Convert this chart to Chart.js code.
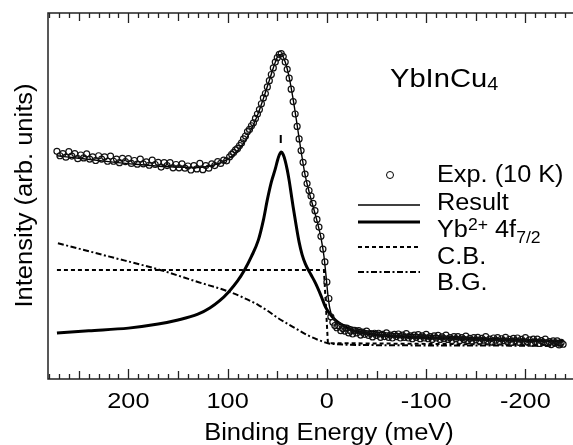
<!DOCTYPE html>
<html>
<head>
<meta charset="utf-8">
<script src="https://cdn.jsdelivr.net/npm/chart.js@4/dist/chart.umd.min.js"></script>
<style>
  html, body { margin: 0; padding: 0; background: #fff; overflow: hidden; }
  canvas { display: block; }
</style>
</head>
<body>
<canvas id="spectrum" width="612" height="445"></canvas>
<script>
// Binding energy in meV, intensity in arb. units (0..100)
const expEnergy = [
  272,269,266,263,260,257,254,251,248,245,242,239,236,233,230,227,224,221,218,215,
  212,209,206,203,200,197,194,191,188,185,182,179,176,173,170,167,164,161,158,155,
  152,149,146,143,140,137,134,131,128,125,122,119,116,113,110,107,104,101,
  98,96,94,92,90,88,86,84,82,80,78,76,74,72,70,68,66,64,62,60,
  58,56,54,52,50,48,46,44,42,40,38,36,34,32,30,28,26,24,22,20,
  18,16,14,12,10,8,6,4,2,0,-2,-4,-6,-8,-10,
  -12,-14,-16,-18,-20,-22,-24,-26,-28,-30,-32,-34,-36,-38,-40,-42,-44,-46,-48,-50,
  -52,-54,-56,-58,-60,-62,-64,-66,-68,-70,-72,-74,-76,-78,-80,-82,-84,-86,-88,-90,
  -92,-94,-96,-98,-100,-102,-104,-106,-108,-110,-112,-114,-116,-118,-120,-122,-124,-126,-128,-130,
  -132,-134,-136,-138,-140,-142,-144,-146,-148,-150,-152,-154,-156,-158,-160,-162,-164,-166,-168,-170,
  -172,-174,-176,-178,-180,-182,-184,-186,-188,-190,-192,-194,-196,-198,-200,-202,-204,-206,-208,-210,
  -212,-214,-216,-218,-220,-222,-224,-226,-228,-230,-232,-234,-236,-238
];
const expIntensity = [
  62.2,61.0,61.6,60.6,62.1,60.9,61.6,60.2,61.2,60.4,61.5,60.1,60.7,59.7,61.0,60.1,60.7,59.5,60.9,59.5,
  60.1,59.1,60.3,59.4,60.2,58.9,59.7,58.7,60.1,58.8,59.3,58.4,59.8,58.6,59.2,57.9,59.1,58.3,59.1,57.7,
  58.6,57.7,58.8,57.6,58.2,57.1,58.3,57.4,58.9,57.2,58.3,57.6,58.8,58.3,59.4,58.9,59.8,59.6,
  60.7,61.4,61.9,62.6,63.0,63.8,64.5,65.6,66.4,67.6,68.2,69.2,70.0,71.2,72.4,73.6,75.2,76.8,78.0,79.8,
  81.5,83.2,85.0,86.6,87.8,88.7,88.9,88.1,86.6,84.6,82.2,79.2,75.8,72.4,69.0,65.6,62.4,59.2,56.0,53.4,
  51.5,50.0,48.0,46.0,43.6,41.5,39.0,35.5,32.0,26.5,22.0,17.0,15.5,14.6,14.0,
  14.5,13.2,13.8,13.1,13.9,12.6,13.1,12.3,13.3,12.6,13.2,12.0,12.8,12.2,13.1,11.9,12.4,11.5,12.5,11.9,
  12.5,11.4,12.2,11.6,12.6,11.4,12.0,11.2,12.2,11.6,12.3,11.2,12.0,11.4,12.4,11.2,11.8,11.0,12.0,11.4,
  12.1,11.0,11.8,11.2,12.2,11.0,11.6,10.8,11.8,11.2,11.9,10.8,11.5,11.0,12.0,10.8,11.3,10.5,11.6,11.0,
  11.6,10.5,11.3,10.8,11.7,10.5,11.1,10.3,11.3,10.7,11.4,10.3,11.1,10.6,11.6,10.3,10.9,10.1,11.2,10.6,
  11.3,10.2,11.0,10.5,11.4,10.2,10.8,10.0,11.1,10.5,11.2,10.0,10.8,10.3,11.3,10.1,10.7,9.8,10.9,10.2,
  10.9,9.7,10.5,10.0,10.9,9.7,10.2,9.4,10.4,9.8,10.4,9.3,10.0,9.5
];

const resultEnergy = [272,250,220,190,160,130,115,105,95,85,78,70,64,58,53,49,46,42,38,34,30,26,22,18,14,10,6,3,1,-1,-3,-6,-10,-20,-35,-60,-100,-150,-200,-238];
const resultIntensity = [61.0,60.3,59.4,58.6,58.0,57.8,58.4,59.3,61.0,64.0,67.2,72.0,76.6,81.6,85.8,88.4,88.7,86.6,82.4,76.4,69.4,62.2,55.8,51.2,47.2,43.2,38.6,33.6,28.5,23.0,19.2,16.6,15.5,14.6,13.4,12.6,12.0,11.3,10.8,10.2];

const ybEnergy = [272,240,200,170,150,130,118,108,99,90,83,76,69,64,60,56,52,50,48,46,44,42,40,38,36,34,31,28,25,21.6,16,11.5,6,1.5,-3,-8.5,-15,-24.6,-35,-52,-80,-120,-160,-200,-238];
const ybIntensity = [12.6,13.2,13.9,15.0,16.1,17.7,19.4,21.4,23.8,26.8,29.8,33.5,38.0,43.4,49.0,53.8,57.4,59.5,61.2,62.0,61.3,59.6,57.2,54.2,50.6,47.0,42.0,37.4,34.0,31.4,28.5,26.2,22.8,19.7,17.8,16.1,14.8,13.4,12.7,12.0,11.5,11.1,10.8,10.5,10.3];

const cbEnergy = [272,3,1,-1,-238];
const cbIntensity = [29.8,29.8,20.0,9.8,9.3];

const bgEnergy = [271,220,168,130,99,84,69,59,49,39,29,19,9,2,-2,-10,-30,-238];
const bgIntensity = [37.1,33.5,29.8,26.5,23.9,22.2,20.2,18.5,16.6,15.0,13.4,11.9,10.7,10.0,9.7,9.5,9.3,9.1];

// small bar above the 4f peak
const peakMarkEnergy = [46.5,46.5];
const peakMarkIntensity = [64.5,66.7];

const xTickLabels = [200,100,0,-100,-200];

const FONT = '"Liberation Sans", Arial, Helvetica, sans-serif';

function toPoints(xs, ys){
    return xs.map((x, i) => ({x: x, y: ys[i]}));
}

// draws text stretched horizontally (the original lettering is a bit wide)
function wideText(ctx, text, x, y, size, sx, align){
    ctx.save();
    ctx.font = size + 'px ' + FONT;
    ctx.translate(x, y);
    ctx.scale(sx, 1);
    ctx.textAlign = align || 'left';
    ctx.textBaseline = 'alphabetic';
    ctx.fillText(text, 0, 0);
    const w = ctx.measureText(text).width * sx;
    ctx.restore();
    return w;
}

const decor = {
    id: 'decor',
    afterDatasetsDraw(chart){
        const ctx = chart.ctx;
        const a = chart.chartArea;
        const x = chart.scales.x;
        ctx.save();
        ctx.strokeStyle = '#222';
        ctx.fillStyle = '#000';

        // frame: top, left, bottom (right side is cut off)
        ctx.lineWidth = 1.5;
        ctx.beginPath();
        ctx.moveTo(a.right, a.top);
        ctx.lineTo(a.left, a.top);
        ctx.lineTo(a.left, a.bottom);
        ctx.lineTo(a.right, a.bottom);
        ctx.stroke();

        // inward ticks every 10 meV
        ctx.lineWidth = 1.3;
        for(let v = -280; v <= 280; v += 10){
            const px = Math.round(x.getPixelForValue(v)) + 0.5;
            let len = 5;
            if(v % 100 === 0) len = 10;
            else if(v % 50 === 0) len = 8;
            ctx.beginPath();
            ctx.moveTo(px, a.top);
            ctx.lineTo(px, a.top + len);
            ctx.moveTo(px, a.bottom);
            ctx.lineTo(px, a.bottom - len);
            ctx.stroke();
        }

        // tick labels
        xTickLabels.forEach(v => {
            wideText(ctx, String(v), x.getPixelForValue(v), 408, 22, 1.15, 'center');
        });

        // axis titles
        wideText(ctx, 'Binding Energy (meV)', 329, 440, 23, 1.11, 'center');
        ctx.save();
        ctx.translate(31.5, 195.5);
        ctx.rotate(-Math.PI / 2);
        wideText(ctx, 'Intensity (arb. units)', 0, 0, 23, 1.11, 'center');
        ctx.restore();

        // sample name
        let cx = 390;
        cx += wideText(ctx, 'YbInCu', cx, 87, 26, 1.12);
        wideText(ctx, '4', cx, 90, 18, 1.1);

        // legend text
        const lx = 437;
        wideText(ctx, 'Exp. (10 K)', lx, 182, 23, 1.1);
        wideText(ctx, 'Result', lx, 209.5, 23, 1.1);
        cx = lx;
        cx += wideText(ctx, 'Yb', cx, 237, 23, 1.1);
        cx += wideText(ctx, '2+', cx, 230, 16, 1.1);
        cx += wideText(ctx, ' 4f', cx, 237, 23, 1.1);
        wideText(ctx, '7/2', cx, 243, 16, 1.1);
        wideText(ctx, 'C.B.', lx, 263.5, 23, 1.1);
        wideText(ctx, 'B.G.', lx, 290, 23, 1.1);

        // legend symbols (they sit a little off the text rows, as in the original)
        ctx.strokeStyle = '#000';
        ctx.lineWidth = 1;
        ctx.beginPath();
        ctx.arc(390, 175, 3.5, 0, Math.PI * 2);
        ctx.stroke();

        const sym = (y, lw, dash) => {
            ctx.lineWidth = lw;
            ctx.setLineDash(dash);
            ctx.beginPath();
            ctx.moveTo(358, y);
            ctx.lineTo(420, y);
            ctx.stroke();
        };
        sym(205, 1.4, []);
        sym(222, 3, []);
        sym(247, 2, [4, 3]);
        sym(272, 2, [6, 2.5, 2, 2.5]);
        ctx.setLineDash([]);
        ctx.restore();
    }
};

const lineStyle = {
    showLine: true,
    pointRadius: 0,
    borderColor: '#000',
    cubicInterpolationMode: 'monotone'
};

const chart = new Chart(document.getElementById('spectrum'), {
    type: 'scatter',
    data: {
        datasets: [
            {
                label: 'Exp. (10 K)',
                data: toPoints(expEnergy, expIntensity),
                pointRadius: 3,
                pointBorderWidth: 1.2,
                pointBorderColor: '#111',
                pointBackgroundColor: 'rgba(0,0,0,0)',
                showLine: false
            },
            Object.assign({label: 'Result', data: toPoints(resultEnergy, resultIntensity), borderWidth: 1.4}, lineStyle),
            Object.assign({label: 'Yb2+ 4f7/2', data: toPoints(ybEnergy, ybIntensity), borderWidth: 3}, lineStyle),
            Object.assign({label: 'C.B.', data: toPoints(cbEnergy, cbIntensity), borderWidth: 2, borderDash: [4, 3], cubicInterpolationMode: 'default', tension: 0}, {showLine: true, pointRadius: 0, borderColor: '#000'}),
            Object.assign({label: 'B.G.', data: toPoints(bgEnergy, bgIntensity), borderWidth: 2, borderDash: [6, 2.5, 2, 2.5]}, lineStyle),
            {label: 'peak', data: toPoints(peakMarkEnergy, peakMarkIntensity), showLine: true, pointRadius: 0, borderWidth: 2, borderColor: '#000'}
        ]
    },
    options: {
        responsive: false,
        animation: false,
        layout: { padding: { left: 48, top: 13, right: 2, bottom: 66 } },
        scales: {
            x: { type: 'linear', reverse: true, min: -282, max: 281, display: false },
            y: { type: 'linear', min: 0, max: 100, display: false }
        },
        plugins: {
            legend: { display: false },
            tooltip: { enabled: false }
        }
    },
    plugins: [decor]
});
</script>
</body>
</html>
